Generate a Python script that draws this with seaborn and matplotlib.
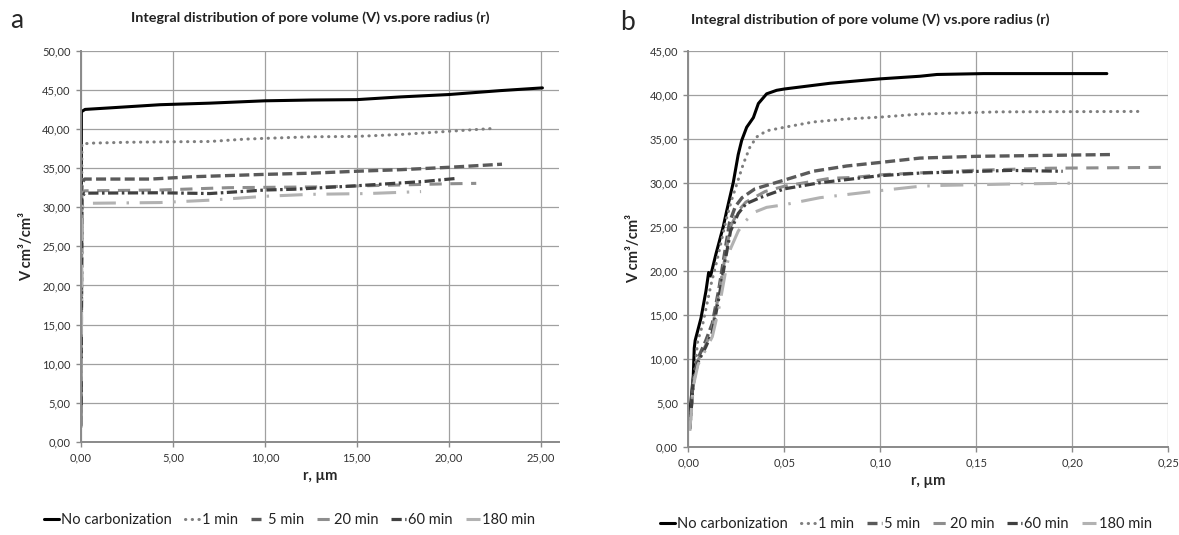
import matplotlib
matplotlib.use("Agg")
import matplotlib.pyplot as plt
import seaborn as sns
from matplotlib.ticker import FuncFormatter, MultipleLocator

# ---------------- data ----------------
series_names = ["No carbonization", "1 min", "5 min", "20 min", "60 min", "180 min"]

# Panel a: full radius range (r in µm, V in cm³/cm³)
a_r_nc = [0.0, 0.02, 0.22, 1.6, 4.3, 7.0, 10.0, 12.5, 15.0, 17.4, 20.0, 22.8, 25.1]
a_v_nc = [3.0, 42.2, 42.5, 42.7, 43.1, 43.3, 43.6, 43.7, 43.75, 44.1, 44.4, 44.9, 45.25]
a_r_1 = [0.0, 0.05, 0.7, 2.5, 4.3, 7.0, 8.9, 10.0, 12.5, 15.0, 17.4, 20.0, 22.3]
a_v_1 = [3.5, 38.1, 38.2, 38.3, 38.35, 38.4, 38.7, 38.8, 39.0, 39.05, 39.3, 39.7, 40.05]
a_r_5 = [0.0, 0.05, 0.2, 3.8, 6.1, 10.0, 12.5, 15.0, 17.4, 20.0, 22.9]
a_v_5 = [2.2, 33.1, 33.6, 33.6, 33.9, 34.2, 34.35, 34.6, 34.8, 35.1, 35.5]
a_r_20 = [0.0, 0.05, 0.2, 4.3, 8.0, 12.9, 18.3, 20.0, 21.5]
a_v_20 = [2.0, 31.8, 32.1, 32.2, 32.5, 32.6, 32.9, 33.0, 33.05]
a_r_60 = [0.0, 0.05, 0.2, 4.3, 7.0, 10.0, 11.6, 14.7, 18.7, 20.5]
a_v_60 = [2.0, 31.3, 31.8, 31.85, 31.75, 32.2, 32.3, 32.7, 33.3, 33.7]
a_r_180 = [0.0, 0.05, 0.2, 4.3, 7.0, 10.0, 12.5, 15.6, 18.5]
a_v_180 = [1.8, 30.0, 30.5, 30.6, 30.9, 31.4, 31.65, 31.75, 32.0]

# Panel b: fine pores
b_r_nc = [0.0005, 0.0026, 0.0031, 0.0036, 0.0066, 0.0092, 0.0106, 0.0116, 0.0125, 0.0144,
          0.0182, 0.0200, 0.0234, 0.0260, 0.0278, 0.0304, 0.0339, 0.0365, 0.0408, 0.0460,
          0.0500, 0.0738, 0.0998, 0.1207, 0.1295, 0.1538, 0.2180]
b_v_nc = [3.0, 8.1, 11.2, 12.1, 14.6, 17.7, 19.8, 19.4, 20.2, 21.9,
          25.0, 26.8, 30.0, 33.2, 34.8, 36.3, 37.4, 39.0, 40.1, 40.5,
          40.65, 41.3, 41.8, 42.1, 42.3, 42.4, 42.4]
b_r_1 = [0.0014, 0.0031, 0.0049, 0.0075, 0.0118, 0.0153, 0.0196, 0.0225, 0.0252, 0.0286,
         0.0320, 0.0356, 0.0408, 0.0500, 0.0650, 0.0825, 0.0998, 0.1207, 0.1610, 0.2370]
b_v_1 = [3.5, 8.1, 12.0, 13.9, 18.4, 21.5, 25.7, 28.0, 29.8, 32.1,
         34.0, 35.2, 35.9, 36.3, 36.9, 37.25, 37.45, 37.8, 38.05, 38.1]
b_r_5 = [0.0008, 0.0025, 0.0050, 0.0090, 0.0125, 0.0160, 0.0195, 0.0215, 0.0245, 0.0280,
         0.0347, 0.0500, 0.0650, 0.0825, 0.0998, 0.1207, 0.1503, 0.2197]
b_v_5 = [2.2, 7.5, 10.0, 12.0, 14.0, 18.0, 22.8, 25.5, 27.3, 28.3,
         29.3, 30.3, 31.3, 31.9, 32.3, 32.8, 33.0, 33.2]
b_r_20 = [0.0008, 0.0025, 0.0050, 0.0090, 0.0125, 0.0160, 0.0195, 0.0220, 0.0260, 0.0300,
          0.0400, 0.0500, 0.0738, 0.0860, 0.1000, 0.1470, 0.1885, 0.2500]
b_v_20 = [2.0, 7.0, 9.8, 11.5, 13.5, 17.5, 22.0, 25.0, 26.8, 27.8,
          29.0, 29.6, 30.5, 30.6, 30.9, 31.4, 31.65, 31.75]
b_r_60 = [0.0008, 0.0025, 0.0050, 0.0090, 0.0125, 0.0160, 0.0195, 0.0220, 0.0260, 0.0300,
          0.0373, 0.0500, 0.0686, 0.0998, 0.1210, 0.1680, 0.1950]
b_v_60 = [2.0, 7.2, 9.6, 11.3, 13.0, 17.0, 21.5, 24.5, 26.5, 27.6,
          28.3, 29.3, 30.0, 30.8, 31.1, 31.4, 31.3]
b_r_180 = [0.0008, 0.0025, 0.0050, 0.0090, 0.0125, 0.0160, 0.0195, 0.0220, 0.0260, 0.0300,
           0.0350, 0.0408, 0.0500, 0.0686, 0.0998, 0.1207, 0.1330, 0.1677, 0.2006]
b_v_180 = [1.8, 6.8, 9.3, 11.0, 12.5, 15.8, 20.0, 22.5, 24.5, 25.7,
           26.7, 27.2, 27.5, 28.3, 29.1, 29.6, 29.7, 29.85, 29.95]

panel_a = [(a_r_nc, a_v_nc), (a_r_1, a_v_1), (a_r_5, a_v_5),
           (a_r_20, a_v_20), (a_r_60, a_v_60), (a_r_180, a_v_180)]
panel_b = [(b_r_nc, b_v_nc), (b_r_1, b_v_1), (b_r_5, b_v_5),
           (b_r_20, b_v_20), (b_r_60, b_v_60), (b_r_180, b_v_180)]

title = "Integral distribution of pore volume (V) vs.pore radius (r)"

# ---------------- styles ----------------
line_styles = {
    "No carbonization": dict(color="#000000", linewidth=2.2, linestyle="-"),
    "1 min": dict(color="#7f7f7f", linewidth=2.2, linestyle=(0, (0.1, 2.1)), dash_capstyle="round"),
    "5 min": dict(color="#5a5a5a", linewidth=2.4, linestyle=(0, (3.0, 1.3))),
    "20 min": dict(color="#8e8e8e", linewidth=2.2, linestyle=(0, (4.0, 2.8))),
    "60 min": dict(color="#404040", linewidth=2.3, linestyle=(0, (3.2, 1.1, 0.8, 1.1))),
    "180 min": dict(color="#b2b2b2", linewidth=2.2, linestyle=(0, (7.5, 3.5, 0.8, 3.5))),
}

sns.set_style("white")
plt.rcParams["font.family"] = ["Lato", "DejaVu Sans"]

fig = plt.figure(figsize=(11.79, 5.35), dpi=100)
ax_a = fig.add_axes([0.0687, 0.1738, 0.4054, 0.7314])
ax_b = fig.add_axes([0.5838, 0.1650, 0.4071, 0.7402])

comma = FuncFormatter(lambda v, p: f"{v:.2f}".replace(".", ","))


def draw_panel(ax, data, xlim, xstep, ylim, legend_xy):
    for name, (r, v) in zip(series_names, data):
        sns.lineplot(x=r, y=v, ax=ax, estimator=None, sort=False, label=name,
                     legend=False, **line_styles[name])
    ax.set_xlim(*xlim)
    ax.set_ylim(*ylim)
    ax.xaxis.set_major_locator(MultipleLocator(xstep))
    ax.yaxis.set_major_locator(MultipleLocator(5))
    ax.xaxis.set_major_formatter(comma)
    ax.yaxis.set_major_formatter(comma)
    ax.grid(True, color="#a0a0a0", linewidth=0.9)
    ax.set_axisbelow(True)
    for side in ("top", "right"):
        ax.spines[side].set_visible(False)
    for side in ("left", "bottom"):
        ax.spines[side].set_color("#8a8a8a")
        ax.spines[side].set_linewidth(1.4)
    ax.tick_params(bottom=True, left=True, direction="out", length=3.5, width=1.0,
                   color="#8a8a8a", labelsize=8, labelcolor="#333333", pad=4)
    ax.set_xlabel("r, µm", fontsize=10.5, fontweight="bold", labelpad=4)
    ax.set_ylabel("V cm³/cm³", fontsize=10.5, fontweight="bold", labelpad=6)
    handles = ax.get_lines()[:len(series_names)]
    ax.legend(handles, series_names, loc="center", bbox_to_anchor=legend_xy, ncol=6,
              frameon=False, fontsize=10.5, handlelength=1.0, handletextpad=0.15,
              columnspacing=0.9, labelcolor="#222222")


draw_panel(ax_a, panel_a, (0, 26), 5, (0, 50), (0.437, -0.199))
draw_panel(ax_b, panel_b, (0, 0.25), 0.05, (0, 45), (0.4535, -0.195))

fig.text(310 / 1179, 1 - 18 / 535, title, ha="center", va="center",
         fontsize=10.4, fontweight="bold", color="#222222")
fig.text(870 / 1179, 1 - 20 / 535, title, ha="center", va="center",
         fontsize=10.4, fontweight="bold", color="#222222")
fig.text(17 / 1179, 1 - 20 / 535, "a", ha="center", va="center", fontsize=19)
fig.text(628 / 1179, 1 - 22 / 535, "b", ha="center", va="center", fontsize=19)

fig.savefig("out.png", dpi=100)
